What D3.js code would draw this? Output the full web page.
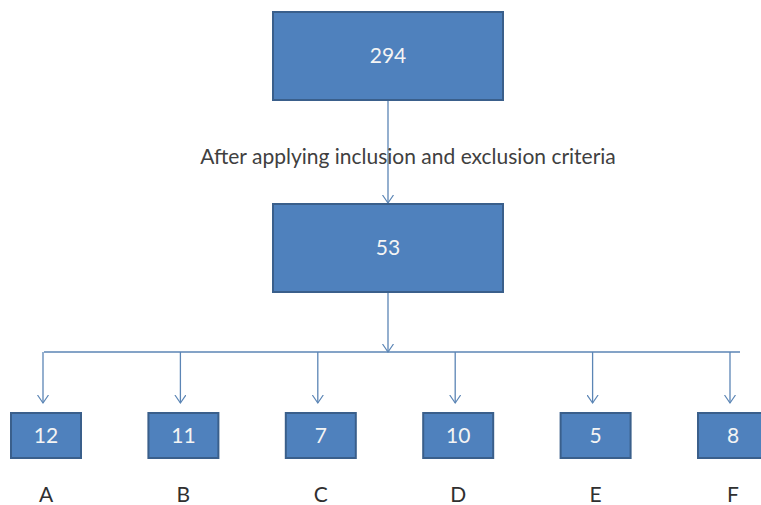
<!DOCTYPE html>
<html>
<head>
<meta charset="utf-8">
<script src="https://cdn.jsdelivr.net/npm/d3@7"></script>
<style>
  body { margin: 0; background: #fff; }
  svg { display: block; font-family: Lato, "Open Sans", sans-serif; }
</style>
</head>
<body>
<div id="chart"></div>
<script>
// flow counts
var stages = ["Identified", "Included"];
var stageValues = [294, 53];
var stepLabel = "After applying inclusion and exclusion criteria";
var groups = ["A", "B", "C", "D", "E", "F"];
var groupValues = [12, 11, 7, 10, 5, 8];

var width = 761, height = 505;
var fill = "#4f81bd", edge = "#3a5f8b", lineCol = "#5b85b5";

var svg = d3.select("#chart").append("svg")
    .attr("width", width).attr("height", height);

// arrow marker (open V)
svg.append("defs").append("marker")
    .attr("id", "arr")
    .attr("viewBox", "-8 -6 10 12")
    .attr("refX", 0).attr("refY", 0)
    .attr("markerWidth", 10).attr("markerHeight", 12)
    .attr("markerUnits", "userSpaceOnUse")
    .attr("orient", "auto")
  .append("path")
    .attr("d", "M-8,-5.5L0,0L-8,5.5")
    .attr("fill", "none").attr("stroke", lineCol).attr("stroke-width", 1.2);

// vertical scale for the two stage boxes
var yStage = d3.scaleBand().domain(stages).range([12, 292]).paddingInner(104 / 192);
var cx = 388, stageW = 230;
// horizontal position of the groups
var xGroup = d3.scalePoint().domain(groups).range([46, 733]);
var busY = 352, groupTop = 413, groupH = 45, groupW = 70;

// connectors
svg.append("line")
    .attr("x1", cx).attr("x2", cx)
    .attr("y1", yStage(stages[0]) + yStage.bandwidth())
    .attr("y2", yStage(stages[1]) - 1)
    .attr("stroke", lineCol).attr("stroke-width", 1.3)
    .attr("marker-end", "url(#arr)");

svg.append("line")
    .attr("x1", cx).attr("x2", cx)
    .attr("y1", yStage(stages[1]) + yStage.bandwidth())
    .attr("y2", busY)
    .attr("stroke", lineCol).attr("stroke-width", 1.3)
    .attr("marker-end", "url(#arr)");

svg.append("line")
    .attr("x1", xGroup(groups[0]) - 2).attr("x2", 740)
    .attr("y1", busY).attr("y2", busY)
    .attr("stroke", lineCol).attr("stroke-width", 1.3);

svg.selectAll(".drop").data(groups).enter().append("line")
    .attr("class", "drop")
    .attr("x1", function (d) { return xGroup(d) - 3; })
    .attr("x2", function (d) { return xGroup(d) - 3; })
    .attr("y1", busY).attr("y2", groupTop - 10)
    .attr("stroke", lineCol).attr("stroke-width", 1.3)
    .attr("marker-end", "url(#arr)");

// step label
svg.append("text")
    .attr("x", 408).attr("y", 164)
    .attr("text-anchor", "middle")
    .attr("font-size", 21)
    .attr("fill", "#404040")
    .text(stepLabel);

// stage boxes
var sg = svg.selectAll(".stage").data(stages).enter().append("g").attr("class", "stage");
sg.append("rect")
    .attr("x", cx - stageW / 2).attr("width", stageW)
    .attr("y", function (d) { return yStage(d); })
    .attr("height", yStage.bandwidth())
    .attr("fill", fill).attr("stroke", edge).attr("stroke-width", 2);
sg.append("text")
    .attr("x", cx)
    .attr("y", function (d) { return yStage(d) + yStage.bandwidth() / 2; })
    .attr("dy", "0.35em")
    .attr("text-anchor", "middle")
    .attr("font-size", 21)
    .attr("fill", "#f4f4f4")
    .text(function (d, i) { return stageValues[i]; });

// group boxes
var gg = svg.selectAll(".grp").data(groups).enter().append("g").attr("class", "grp");
gg.append("rect")
    .attr("x", function (d) { return xGroup(d) - groupW / 2; })
    .attr("y", groupTop).attr("width", groupW).attr("height", groupH)
    .attr("fill", fill).attr("stroke", edge).attr("stroke-width", 2);
gg.append("text")
    .attr("x", function (d) { return xGroup(d); })
    .attr("y", groupTop + groupH / 2)
    .attr("dy", "0.35em")
    .attr("text-anchor", "middle")
    .attr("font-size", 21)
    .attr("fill", "#f4f4f4")
    .text(function (d, i) { return groupValues[i]; });
gg.append("text")
    .attr("x", function (d) { return xGroup(d); })
    .attr("y", 495)
    .attr("dy", "0.35em")
    .attr("text-anchor", "middle")
    .attr("font-size", 21)
    .attr("fill", "#303030")
    .text(function (d) { return d; });
</script>
</body>
</html>
